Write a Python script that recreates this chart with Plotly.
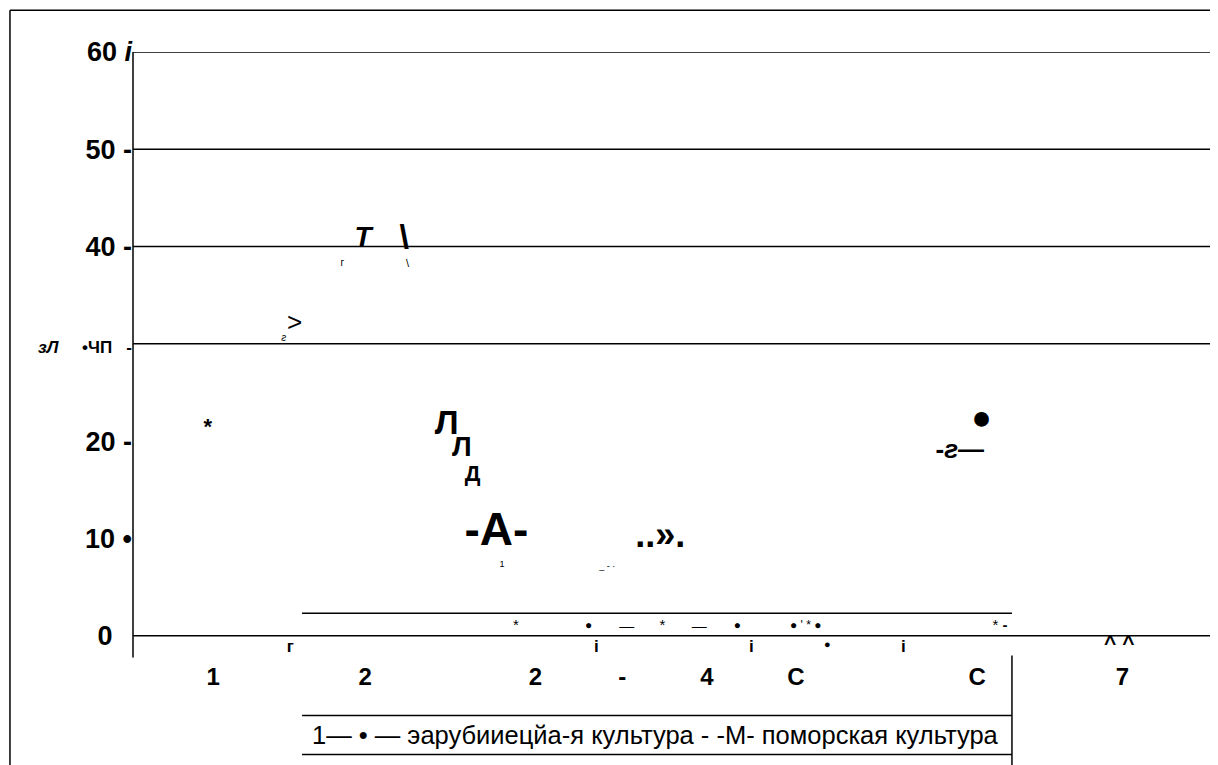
import plotly.graph_objects as go

# подписи по оси X (как на рисунке)
cat_pos = [7.4, 21.4, 37.1, 45.1, 52.9, 61.1, 77.8, 91.2]
cat_labels = ["1", "2", "2", "-", "4", "С", "С", "7"]

# подписи по оси Y
NB = "\u00a0"
y_vals = [0, 10, 20, 30, 40, 50, 60]
y_labels = ["0" + NB * 2 + "\u2006", "10 •", "20 -",
            "<span style='font-size:17px'><i>зЛ</i>" + NB * 5 + "•ЧП" + NB * 3 + "-</span>",
            "40 -", "50 -", "60 <i>i</i>"]
grid_levels = [30, 40, 50, 60]

# значки на поле графика (x, y, текст, размер)
mark_x = [6.9, 21.2, 19.3, 25.0, 25.3, 14.9, 13.9, 28.9, 30.3, 31.3, 33.5, 34.0, 43.7, 48.6, 78.2, 76.2,
          35.3, 42.0, 45.5, 48.8, 52.2, 55.7, 62.0, 79.9,
          14.5, 42.7, 57.0, 64.0, 71.0, 90.9]
mark_y = [21.3, 40.8, 38.3, 40.7, 38.2, 32.0, 30.6, 21.6, 19.2, 16.5, 10.5, 7.3, 7.1, 10.0, 22.1, 18.9,
          0.95, 0.95, 0.9, 0.95, 0.9, 0.95, 0.95, 0.95,
          -1.2, -1.2, -1.2, -1.0, -1.2, -0.9]
mark_text = ["<b>*</b>", "<b><i>Т</i></b>", "г", "<b>\\</b>", "\\", "&gt;", "<i>г</i>",
             "<b>Л</b>", "<b>Л</b>", "<b>Д</b>", "<b>-А-</b>", "1", "_ - ·", "<b>..».</b>",
             "●", "<b>-<i>г</i>—</b>",
             "*", "●", "—", "*", "—", "●", "● ' * ●", "* <b>-</b>",
             "<b>г</b>", "<b>i</b>", "<b>i</b>", "●", "<b>i</b>", "<b>^ ^</b>"]
mark_size = [22, 28, 10, 34, 11, 26, 10, 34, 28, 22, 46, 9, 9, 36, 34, 26,
             15, 12, 15, 15, 15, 12, 12, 15,
             17, 17, 17, 11, 17, 21]

legend_text = "1— • — эарубииецйа-я культура - -М- поморская культура"

fig = go.Figure()
fig.add_trace(go.Scatter(x=mark_x, y=mark_y, text=mark_text, mode="text",
                         textposition="middle center", cliponaxis=False,
                         textfont=dict(size=mark_size, color="black",
                                       family="Liberation Sans, Arial"),
                         showlegend=False, hoverinfo="skip"))

ln = dict(color="black", width=1.5)
shapes = []
# горизонтальные линии сетки и нулевая линия
for g in grid_levels + [0]:
    shapes.append(dict(type="line", xref="paper", yref="y", x0=0, x1=1, y0=g, y1=g, line=ln))
# ось Y
shapes.append(dict(type="line", xref="paper", yref="paper", x0=0, x1=0, y0=0.004, y1=1, line=ln))
# рамка
shapes.append(dict(type="line", xref="paper", yref="paper", x0=-0.1134, x1=1.01, y0=1.0685, y1=1.0685, line=ln))
shapes.append(dict(type="line", xref="paper", yref="paper", x0=-0.1134, x1=-0.1134, y0=1.0685, y1=-0.25, line=ln))
# таблица под графиком
shapes.append(dict(type="line", xref="paper", yref="y", x0=0.1558, x1=0.8101, y0=2.3, y1=2.3, line=ln))
for yy in [-0.0911, -0.1553]:
    shapes.append(dict(type="line", xref="paper", yref="paper", x0=0.1558, x1=0.8101, y0=yy, y1=yy, line=ln))
shapes.append(dict(type="line", xref="paper", yref="paper", x0=0.8101, x1=0.8101, y0=0.0076, y1=-0.25, line=ln))

fig.update_layout(
    width=1218, height=765,
    margin=dict(l=125, r=8, t=44, b=113),
    paper_bgcolor="white", plot_bgcolor="white",
    font=dict(family="Liberation Sans, Arial", color="black"),
    shapes=shapes,
    xaxis=dict(range=[0, 100], showgrid=False, zeroline=False, showline=False,
               tickvals=cat_pos, ticktext=cat_labels, ticks="",
               tickfont=dict(size=24, family="Liberation Sans, Arial", weight="bold"),
               ticklabelstandoff=0),
    yaxis=dict(range=[-2.5, 60], showgrid=False, zeroline=False, showline=False,
               tickvals=y_vals, ticktext=y_labels, ticks="",
               tickfont=dict(size=27, family="Liberation Sans, Arial", weight="bold"),
               ticklabelstandoff=0),
    annotations=[dict(text=legend_text, xref="paper", yref="paper", x=0.163, y=-0.124,
                      xanchor="left", yanchor="middle", showarrow=False,
                      font=dict(size=25.5, family="Liberation Sans, Arial", color="black"))],
)

fig.write_html("out.html")
